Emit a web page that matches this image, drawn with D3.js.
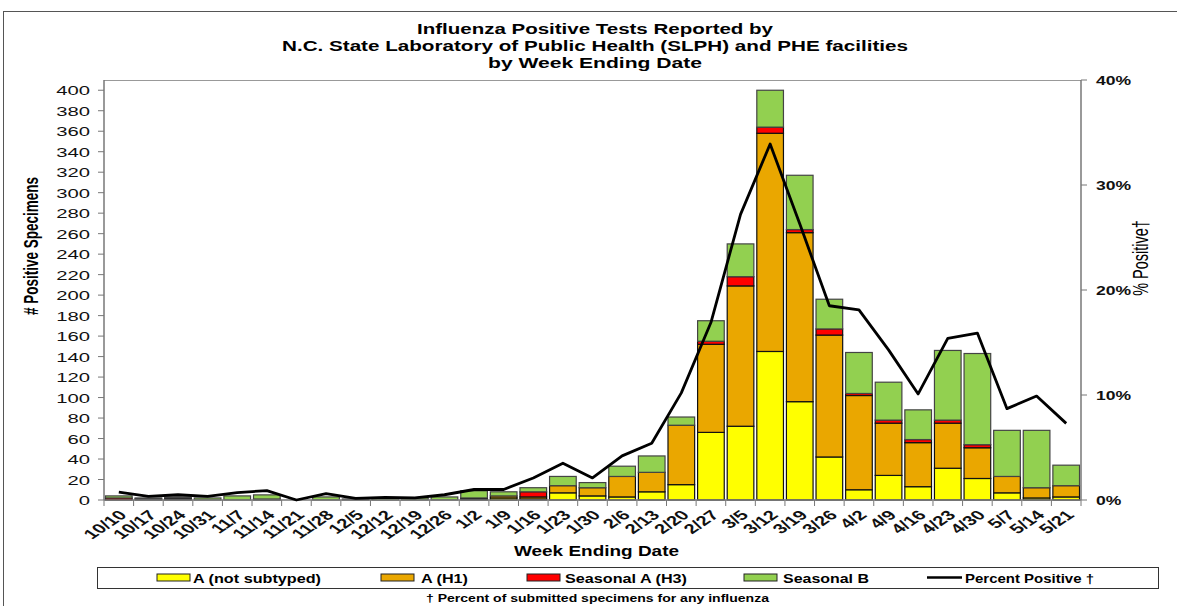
<!DOCTYPE html>
<html>
<head>
<meta charset="utf-8">
<script src="https://cdn.jsdelivr.net/npm/d3@7"></script>
<style>
  html, body { margin: 0; padding: 0; background: #fff; }
  svg { display: block; font-family: "Liberation Sans", Arial, sans-serif; }
</style>
</head>
<body>
<svg id="chart" width="1177" height="606"></svg>
<script>
// ---------------- data ----------------
const weeks = ["10/10","10/17","10/24","10/31","11/7","11/14","11/21","11/28","12/5","12/12","12/19","12/26",
  "1/2","1/9","1/16","1/23","1/30","2/6","2/13","2/20","2/27","3/5","3/12","3/19","3/26",
  "4/2","4/9","4/16","4/23","4/30","5/7","5/14","5/21"];
const aNotSubtyped = [0,0,1,0,0,1,0,0,0,0,0,0,1,2,1,7,4,3,8,15,66,72,145,96,42,10,24,13,31,21,7,2,3];
const aH1          = [0,1,1,0,0,0,0,0,0,0,0,0,1,2,2,7,8,20,19,58,86,137,213,165,119,92,51,43,44,30,16,10,11];
const seasonalH3   = [2,0,0,0,0,0,0,0,0,0,0,0,0,0,5,0,0,0,0,0,3,9,6,3,6,2,3,3,3,3,0,0,0];
const seasonalB    = [2,1,1,2,4,4,0,3,1,2,2,3,7,4,4,9,5,10,16,8,20,32,36,53,29,40,37,29,68,89,45,56,20];
const percentPositive = [0.75,0.35,0.5,0.35,0.7,0.9,0,0.6,0.15,0.25,0.2,0.5,1.0,1.0,2.1,3.5,2.1,4.2,5.4,10.2,
  16.9,27.2,33.9,26.3,18.5,18.1,14.3,10.1,15.4,15.9,8.7,9.9,7.3];
const leftTicks = d3.range(0, 401, 20);
const rightTicks = [0, 10, 20, 30, 40];
const seriesNames = ["A (not subtyped)", "A (H1)", "Seasonal A (H3)", "Seasonal B"];
const seriesColors = ["#FFFF00", "#EAA700", "#FF0000", "#92D050"];
const titleLines = ["Influenza Positive Tests Reported by",
  "N.C. State Laboratory of Public Health (SLPH) and PHE facilities",
  "by Week Ending Date"];

// ---------------- layout ----------------
const svg = d3.select("#chart");
const L = 104, R = 1081, T = 80, B = 500;
const SX = 1.5; // horizontal stretch of the original text

const x = d3.scaleBand().domain(weeks).range([L, R]).paddingInner(0.1).paddingOuter(0.05);
const yL = d3.scaleLinear().domain([0, 410]).range([B, T]);
const yR = d3.scaleLinear().domain([0, 40]).range([B, T]);

// outer frame
svg.append("rect").attr("x", 3.5).attr("y", 11.5).attr("width", 1190).attr("height", 620)
  .attr("fill", "none").attr("stroke", "#555").attr("stroke-width", 1);

// title
const titleGeom = [[417, 34, 356], [282, 51, 626], [488, 68, 214]];
titleLines.forEach((t, i) => {
  svg.append("text").attr("x", titleGeom[i][0]).attr("y", titleGeom[i][1])
    .attr("textLength", titleGeom[i][2]).attr("lengthAdjust", "spacingAndGlyphs")
    .attr("font-size", 14).attr("font-weight", "bold").attr("fill", "#000").text(t);
});

// plot frame (top border)
svg.append("line").attr("x1", L).attr("x2", R).attr("y1", T + 0.5).attr("y2", T + 0.5)
  .attr("stroke", "#999").attr("stroke-width", 1.2);

// stacked bars
const rows = weeks.map((w, i) => ({ week: w, s0: aNotSubtyped[i], s1: aH1[i], s2: seasonalH3[i], s3: seasonalB[i] }));
const stack = d3.stack().keys(["s0", "s1", "s2", "s3"])(rows);
const barG = svg.append("g");
stack.forEach((layer, k) => {
  barG.selectAll(null).data(layer.filter(d => d[1] - d[0] > 0)).enter().append("rect")
    .attr("x", d => x(d.data.week))
    .attr("width", x.bandwidth())
    .attr("y", d => yL(d[1]))
    .attr("height", d => yL(d[0]) - yL(d[1]))
    .attr("fill", seriesColors[k])
    .attr("stroke", k === 3 ? "#444" : "#111")
    .attr("stroke-width", 1.2);
});

// axes lines
svg.append("line").attr("x1", L).attr("x2", L).attr("y1", T).attr("y2", B)
  .attr("stroke", "#777").attr("stroke-width", 1.5);
svg.append("line").attr("x1", R).attr("x2", R).attr("y1", T).attr("y2", B)
  .attr("stroke", "#777").attr("stroke-width", 1.5);
svg.append("line").attr("x1", L).attr("x2", R).attr("y1", B).attr("y2", B)
  .attr("stroke", "#777").attr("stroke-width", 1.5);

// left ticks
leftTicks.forEach(v => {
  const yy = yL(v);
  svg.append("line").attr("x1", L - 6).attr("x2", L).attr("y1", yy).attr("y2", yy).attr("stroke", "#777");
  svg.append("text").attr("transform", `translate(90,${yy + 5}) scale(${SX},1)`)
    .attr("text-anchor", "end").attr("font-size", 13.5).attr("fill", "#111").text(v);
});
// right ticks
rightTicks.forEach(v => {
  const yy = yR(v);
  svg.append("line").attr("x1", R).attr("x2", R + 6).attr("y1", yy).attr("y2", yy).attr("stroke", "#777");
  svg.append("text").attr("transform", `translate(1096,${yy + 5}) scale(1.3,1)`)
    .attr("text-anchor", "start").attr("font-size", 13.5).attr("font-weight", "bold").attr("fill", "#111").text(v + "%");
});
// x ticks & labels
const step = x.step();
d3.range(weeks.length + 1).forEach(i => {
  const xx = L + i * step;
  svg.append("line").attr("x1", xx).attr("x2", xx).attr("y1", B).attr("y2", B + 6).attr("stroke", "#777");
});
weeks.forEach(w => {
  const cx = x(w) + x.bandwidth() / 2;
  svg.append("text").attr("transform", `translate(${cx + 9},516) scale(${SX},1) rotate(-45)`)
    .attr("text-anchor", "end").attr("font-size", 13.5).attr("font-weight", "bold").attr("fill", "#111").text(w);
});

// axis titles
svg.append("text").attr("transform", `translate(38,246) scale(${SX},1) rotate(-90)`)
  .attr("text-anchor", "middle").attr("font-size", 13.5).attr("font-weight", "bold").text("# Positive Specimens");
svg.append("text").attr("transform", `translate(1148,258) scale(${SX},1) rotate(-90)`)
  .attr("text-anchor", "middle").attr("font-size", 14.5).text("% Positive\u2020");
svg.append("text").attr("x", 514).attr("y", 556).attr("textLength", 165).attr("lengthAdjust", "spacingAndGlyphs")
  .attr("font-size", 14).attr("font-weight", "bold").text("Week Ending Date");

// percent positive line
const line = d3.line().x((d, i) => x(weeks[i]) + x.bandwidth() / 2).y(d => yR(d));
svg.append("path").datum(percentPositive).attr("d", line)
  .attr("fill", "none").attr("stroke", "#000").attr("stroke-width", 2.8).attr("stroke-linejoin", "round");

// legend
svg.append("rect").attr("x", 97.5).attr("y", 567.5).attr("width", 1061).attr("height", 21)
  .attr("fill", "#fff").attr("stroke", "#333").attr("stroke-width", 1);
const legItems = [
  { sw: 157, tx: 193, tw: 128 },
  { sw: 381, tx: 421, tw: 47 },
  { sw: 527, tx: 565, tw: 122 },
  { sw: 744, tx: 783, tw: 86 },
];
legItems.forEach((it, k) => {
  svg.append("rect").attr("x", it.sw).attr("y", 574).attr("width", 33).attr("height", 7)
    .attr("fill", seriesColors[k]).attr("stroke", "#222").attr("stroke-width", 1);
  svg.append("text").attr("x", it.tx).attr("y", 582.5).attr("textLength", it.tw).attr("lengthAdjust", "spacingAndGlyphs")
    .attr("font-size", 12.5).attr("font-weight", "bold").text(seriesNames[k]);
});
svg.append("line").attr("x1", 927).attr("x2", 962).attr("y1", 577.5).attr("y2", 577.5)
  .attr("stroke", "#000").attr("stroke-width", 2.5);
svg.append("text").attr("x", 965).attr("y", 582.5).attr("textLength", 129).attr("lengthAdjust", "spacingAndGlyphs")
  .attr("font-size", 12.5).attr("font-weight", "bold").text("Percent Positive \u2020");

// footnote
svg.append("text").attr("x", 426).attr("y", 602).attr("textLength", 343).attr("lengthAdjust", "spacingAndGlyphs")
  .attr("font-size", 10).attr("font-weight", "bold").text("\u2020 Percent of submitted specimens for any influenza");
</script>
</body>
</html>
